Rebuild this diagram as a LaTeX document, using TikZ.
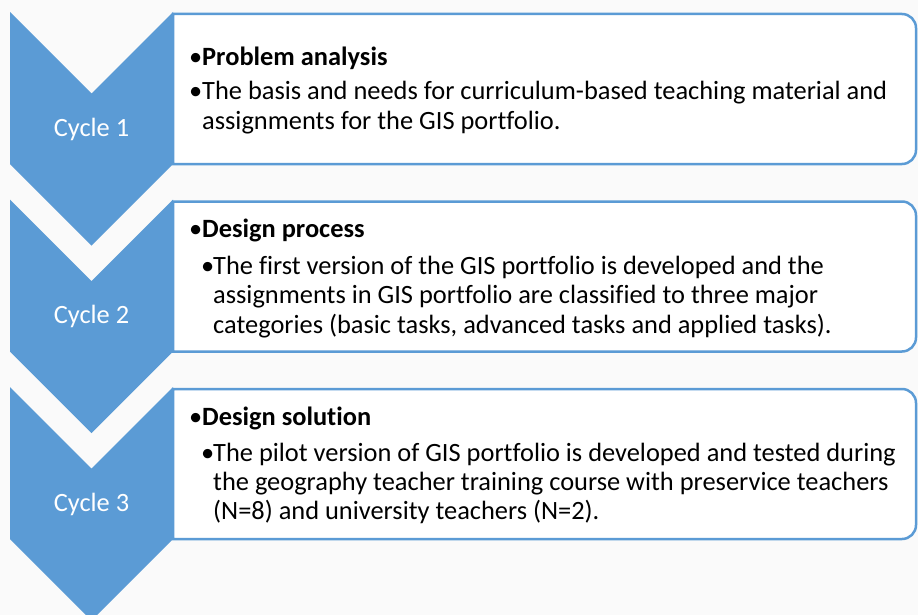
\documentclass[tikz,border=0pt]{standalone}
\usepackage{fontspec}
\setmainfont{Carlito}[Ligatures=NoCommon]
\definecolor{cblue}{HTML}{5B9BD5}
\definecolor{bgc}{HTML}{FAFAFA}
\newcommand\bul[1]{\makebox[#1pt][l]{•}}
\begin{document}
\begin{tikzpicture}[x=1pt,y=-1pt,
  chev/.style={fill=cblue, draw=none},
  panel/.style={draw=cblue, line width=2.5pt, fill=white},
  cyc/.style={text=white, inner sep=0, font=\fontsize{26.4}{30}\selectfont},
  txt/.style={anchor=base west, inner sep=0, font=\fontsize{26.4}{30}\selectfont},
]
\fill[bgc] (0,0) rectangle (918,615);
\useasboundingbox (0,0) rectangle (918,615);

% panels
\draw[panel] (173,14) -- (902,14) arc[start angle=-90, end angle=0, radius=14] -- (916,150) arc[start angle=0, end angle=90, radius=14] -- (173,164) -- cycle;
\draw[panel] (173,201.5) -- (902,201.5) arc[start angle=-90, end angle=0, radius=14] -- (916,337.5) arc[start angle=0, end angle=90, radius=14] -- (173,351.5) -- cycle;
\draw[panel] (173,389) -- (902,389) arc[start angle=-90, end angle=0, radius=14] -- (916,525) arc[start angle=0, end angle=90, radius=14] -- (173,539) -- cycle;

% chevrons
\fill[chev] (10,12) -- (91.5,93.5) -- (173,12) -- (173,164) -- (91.5,245.5) -- (10,164) -- cycle;
\fill[chev] (10,199.5) -- (91.5,281) -- (173,199.5) -- (173,351.5) -- (91.5,433) -- (10,351.5) -- cycle;
\fill[chev] (10,387) -- (91.5,468.5) -- (173,387) -- (173,539) -- (91.5,620.5) -- (10,539) -- cycle;

\node[cyc] (c1) at (91.5,129) {Cycle 1};
\node[cyc] (c2) at (91.5,316.5) {Cycle 2};
\node[cyc] (c3) at (91.5,504) {Cycle 3};

% box 1
\node[txt] (h1) at (189,66) {\bul{13}\textbf{Problem analysis}};
\node[txt] (s1a) at (189,100) {\bul{13}The basis and needs for curriculum-based teaching material and};
\node[txt] (s1b) at (202,130) {assignments for the GIS portfolio.};

% box 2
\node[txt] (h2) at (189,237) {\bul{13}\textbf{Design process}};
\node[txt] (s2a) at (201,274) {\bul{12}The first version of the GIS portfolio is developed and the};
\node[txt] (s2b) at (213,303.5) {assignments in GIS portfolio are classified to three major};
\node[txt] (s2c) at (213,333) {categories (basic tasks, advanced tasks and applied tasks).};

% box 3
\node[txt] (h3) at (189,425) {\bul{13}\textbf{Design solution}};
\node[txt] (s3a) at (201,461) {\bul{12}The pilot version of GIS portfolio is developed and tested during};
\node[txt] (s3b) at (213,490) {the geography teacher training course with preservice teachers};
\node[txt] (s3c) at (213,519.5) {(N=8) and university teachers (N=2).};
\end{tikzpicture}
\end{document}
